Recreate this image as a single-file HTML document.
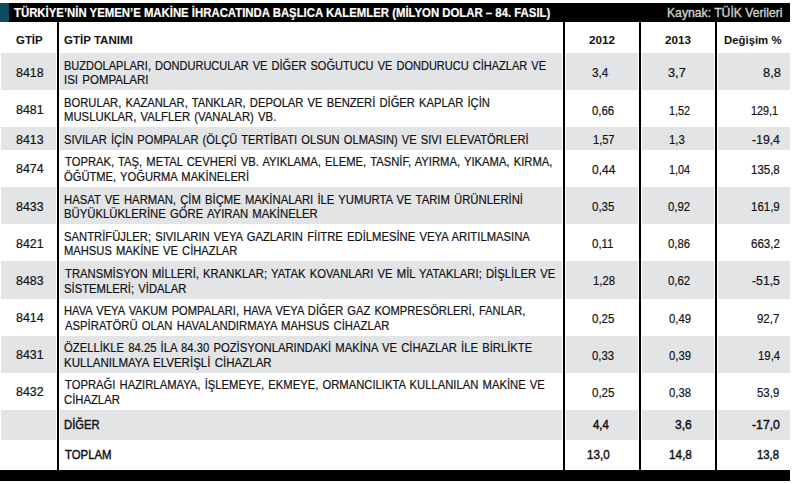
<!DOCTYPE html>
<html><head><meta charset="utf-8"><style>
html,body{margin:0;padding:0;background:#fff;}
body{width:795px;height:484px;position:relative;overflow:hidden;font-family:"Liberation Sans",sans-serif;}
.t{position:absolute;white-space:pre;line-height:1;transform-origin:0 0;-webkit-text-stroke:0.2px currentColor;}
</style></head><body>
<div style="position:absolute;left:1px;top:53px;width:55px;height:37px;background:#e3e4e6"></div>
<div style="position:absolute;left:60px;top:53px;width:502px;height:37px;background:#e3e4e6"></div>
<div style="position:absolute;left:566px;top:53px;width:72px;height:37px;background:#e3e4e6"></div>
<div style="position:absolute;left:642px;top:53px;width:72px;height:37px;background:#e3e4e6"></div>
<div style="position:absolute;left:718px;top:53px;width:72px;height:37px;background:#e3e4e6"></div>
<div style="position:absolute;left:1px;top:127px;width:55px;height:23px;background:#e3e4e6"></div>
<div style="position:absolute;left:60px;top:127px;width:502px;height:23px;background:#e3e4e6"></div>
<div style="position:absolute;left:566px;top:127px;width:72px;height:23px;background:#e3e4e6"></div>
<div style="position:absolute;left:642px;top:127px;width:72px;height:23px;background:#e3e4e6"></div>
<div style="position:absolute;left:718px;top:127px;width:72px;height:23px;background:#e3e4e6"></div>
<div style="position:absolute;left:1px;top:187px;width:55px;height:37px;background:#e3e4e6"></div>
<div style="position:absolute;left:60px;top:187px;width:502px;height:37px;background:#e3e4e6"></div>
<div style="position:absolute;left:566px;top:187px;width:72px;height:37px;background:#e3e4e6"></div>
<div style="position:absolute;left:642px;top:187px;width:72px;height:37px;background:#e3e4e6"></div>
<div style="position:absolute;left:718px;top:187px;width:72px;height:37px;background:#e3e4e6"></div>
<div style="position:absolute;left:1px;top:261px;width:55px;height:38px;background:#e3e4e6"></div>
<div style="position:absolute;left:60px;top:261px;width:502px;height:38px;background:#e3e4e6"></div>
<div style="position:absolute;left:566px;top:261px;width:72px;height:38px;background:#e3e4e6"></div>
<div style="position:absolute;left:642px;top:261px;width:72px;height:38px;background:#e3e4e6"></div>
<div style="position:absolute;left:718px;top:261px;width:72px;height:38px;background:#e3e4e6"></div>
<div style="position:absolute;left:1px;top:336px;width:55px;height:37px;background:#e3e4e6"></div>
<div style="position:absolute;left:60px;top:336px;width:502px;height:37px;background:#e3e4e6"></div>
<div style="position:absolute;left:566px;top:336px;width:72px;height:37px;background:#e3e4e6"></div>
<div style="position:absolute;left:642px;top:336px;width:72px;height:37px;background:#e3e4e6"></div>
<div style="position:absolute;left:718px;top:336px;width:72px;height:37px;background:#e3e4e6"></div>
<div style="position:absolute;left:1px;top:410px;width:55px;height:30px;background:#e3e4e6"></div>
<div style="position:absolute;left:60px;top:410px;width:502px;height:30px;background:#e3e4e6"></div>
<div style="position:absolute;left:566px;top:410px;width:72px;height:30px;background:#e3e4e6"></div>
<div style="position:absolute;left:642px;top:410px;width:72px;height:30px;background:#e3e4e6"></div>
<div style="position:absolute;left:718px;top:410px;width:72px;height:30px;background:#e3e4e6"></div>
<div style="position:absolute;left:0px;top:3px;width:790px;height:19px;background:#000"></div>
<div style="position:absolute;left:0px;top:3px;width:9px;height:19px;background:#0c4b62"></div>
<div style="position:absolute;left:57px;top:22px;width:2px;height:448px;background:#000"></div>
<div style="position:absolute;left:563px;top:22px;width:2px;height:448px;background:#000"></div>
<div style="position:absolute;left:639px;top:22px;width:2px;height:448px;background:#000"></div>
<div style="position:absolute;left:715px;top:22px;width:2px;height:448px;background:#000"></div>
<div style="position:absolute;left:0px;top:470px;width:790px;height:11px;background:#000"></div>
<span class="t" style="left:14.00px;top:7.00px;font-size:12.5px;font-weight:700;color:#ffffff;transform:scaleX(0.9092);">TÜRKİYE’NİN YEMEN’E MAKİNE İHRACATINDA BAŞLICA KALEMLER (MİLYON DOLAR – 84. FASIL)</span>
<span class="t" style="left:667.03px;top:7.00px;font-size:12.5px;font-weight:400;color:#d2d2d2;transform:scaleX(0.9744);-webkit-text-stroke:0.35px currentColor;">Kaynak: TÜİK Verileri</span>
<span class="t" style="left:15.72px;top:33.50px;font-size:11.6px;font-weight:700;color:#111114;transform:scaleX(0.9846);-webkit-text-stroke:0;">GTİP</span>
<span class="t" style="left:64.01px;top:33.50px;font-size:11.6px;font-weight:700;color:#111114;transform:scaleX(0.9941);-webkit-text-stroke:0;">GTİP TANIMI</span>
<span class="t" style="left:589.40px;top:33.50px;font-size:11.6px;font-weight:700;color:#111114;transform:scaleX(1.0120);-webkit-text-stroke:0;">2012</span>
<span class="t" style="left:664.80px;top:33.50px;font-size:11.6px;font-weight:700;color:#111114;transform:scaleX(1.0040);-webkit-text-stroke:0;">2013</span>
<span class="t" style="left:723.82px;top:33.50px;font-size:11.6px;font-weight:700;color:#111114;transform:scaleX(0.9807);-webkit-text-stroke:0;">Değişim %</span>
<span class="t" style="left:64.15px;top:59.00px;font-size:13px;font-weight:400;color:#111114;transform:scaleX(0.8476);word-spacing:1.2px;">BUZDOLAPLARI, DONDURUCULAR VE DİĞER SOĞUTUCU VE DONDURUCU CİHAZLAR VE</span>
<span class="t" style="left:64.12px;top:73.00px;font-size:13px;font-weight:400;color:#111114;transform:scaleX(0.8839);word-spacing:1.2px;">ISI POMPALARI</span>
<span class="t" style="left:64.14px;top:96.00px;font-size:13px;font-weight:400;color:#111114;transform:scaleX(0.8624);word-spacing:1.2px;">BORULAR, KAZANLAR, TANKLAR, DEPOLAR VE BENZERİ DİĞER KAPLAR İÇİN</span>
<span class="t" style="left:64.13px;top:110.00px;font-size:13px;font-weight:400;color:#111114;transform:scaleX(0.8711);word-spacing:1.2px;">MUSLUKLAR, VALFLER (VANALAR) VB.</span>
<span class="t" style="left:64.14px;top:133.00px;font-size:13px;font-weight:400;color:#111114;transform:scaleX(0.8576);word-spacing:1.2px;">SIVILAR İÇİN POMPALAR (ÖLÇÜ TERTİBATI OLSUN OLMASIN) VE SIVI ELEVATÖRLERİ</span>
<span class="t" style="left:65.00px;top:155.00px;font-size:13px;font-weight:400;color:#111114;transform:scaleX(0.8639);word-spacing:1.2px;">TOPRAK, TAŞ, METAL CEVHERİ VB. AYIKLAMA, ELEME, TASNİF, AYIRMA, YIKAMA, KIRMA,</span>
<span class="t" style="left:64.14px;top:170.00px;font-size:13px;font-weight:400;color:#111114;transform:scaleX(0.8596);word-spacing:1.2px;">ÖĞÜTME, YOĞURMA MAKİNELERİ</span>
<span class="t" style="left:64.13px;top:193.00px;font-size:13px;font-weight:400;color:#111114;transform:scaleX(0.8677);word-spacing:1.2px;">HASAT VE HARMAN, ÇİM BİÇME MAKİNALARI İLE YUMURTA VE TARIM ÜRÜNLERİNİ</span>
<span class="t" style="left:64.13px;top:207.00px;font-size:13px;font-weight:400;color:#111114;transform:scaleX(0.8700);word-spacing:1.2px;">BÜYÜKLÜKLERİNE GÖRE AYIRAN MAKİNELER</span>
<span class="t" style="left:64.13px;top:230.00px;font-size:13px;font-weight:400;color:#111114;transform:scaleX(0.8668);word-spacing:1.2px;">SANTRİFÜJLER; SIVILARIN VEYA GAZLARIN FİITRE EDİLMESİNE VEYA ARITILMASINA</span>
<span class="t" style="left:64.14px;top:244.00px;font-size:13px;font-weight:400;color:#111114;transform:scaleX(0.8605);word-spacing:1.2px;">MAHSUS MAKİNE VE CİHAZLAR</span>
<span class="t" style="left:65.00px;top:267.00px;font-size:13px;font-weight:400;color:#111114;transform:scaleX(0.8676);word-spacing:1.2px;">TRANSMİSYON MİLLERİ, KRANKLAR; YATAK KOVANLARI VE MİL YATAKLARI; DİŞLİLER VE</span>
<span class="t" style="left:64.13px;top:282.00px;font-size:13px;font-weight:400;color:#111114;transform:scaleX(0.8664);word-spacing:1.2px;">SİSTEMLERİ; VİDALAR</span>
<span class="t" style="left:64.14px;top:304.00px;font-size:13px;font-weight:400;color:#111114;transform:scaleX(0.8582);word-spacing:1.2px;">HAVA VEYA VAKUM POMPALARI, HAVA VEYA DİĞER GAZ KOMPRESÖRLERİ, FANLAR,</span>
<span class="t" style="left:65.00px;top:319.00px;font-size:13px;font-weight:400;color:#111114;transform:scaleX(0.8686);word-spacing:1.2px;">ASPİRATÖRÜ OLAN HAVALANDIRMAYA MAHSUS CİHAZLAR</span>
<span class="t" style="left:64.13px;top:341.00px;font-size:13px;font-weight:400;color:#111114;transform:scaleX(0.8664);word-spacing:1.2px;">ÖZELLİKLE 84.25 İLA 84.30 POZİSYONLARINDAKİ MAKİNA VE CİHAZLAR İLE BİRLİKTE</span>
<span class="t" style="left:64.11px;top:356.00px;font-size:13px;font-weight:400;color:#111114;transform:scaleX(0.8863);word-spacing:1.2px;">KULLANILMAYA ELVERİŞLİ CİHAZLAR</span>
<span class="t" style="left:65.00px;top:378.00px;font-size:13px;font-weight:400;color:#111114;transform:scaleX(0.8657);word-spacing:1.2px;">TOPRAĞI HAZIRLAMAYA, İŞLEMEYE, EKMEYE, ORMANCILIKTA KULLANILAN MAKİNE VE</span>
<span class="t" style="left:64.13px;top:393.00px;font-size:13px;font-weight:400;color:#111114;transform:scaleX(0.8683);word-spacing:1.2px;">CİHAZLAR</span>
<span class="t" style="left:15.85px;top:66.00px;font-size:13px;font-weight:400;color:#111114;transform:scaleX(0.9519);">8418</span>
<span class="t" style="left:591.85px;top:66.00px;font-size:13px;font-weight:400;color:#111114;transform:scaleX(0.9029);">3,4</span>
<span class="t" style="left:667.82px;top:66.00px;font-size:13px;font-weight:400;color:#111114;transform:scaleX(0.9813);">3,7</span>
<span class="t" style="left:762.51px;top:66.00px;font-size:13px;font-weight:400;color:#111114;transform:scaleX(0.9937);">8,8</span>
<span class="t" style="left:15.85px;top:103.00px;font-size:13px;font-weight:400;color:#111114;transform:scaleX(0.9519);">8481</span>
<span class="t" style="left:592.33px;top:104.00px;font-size:13px;font-weight:400;color:#111114;transform:scaleX(0.8750);">0,66</span>
<span class="t" style="left:669.37px;top:104.00px;font-size:13px;font-weight:400;color:#111114;transform:scaleX(0.8333);">1,52</span>
<span class="t" style="left:751.17px;top:104.00px;font-size:13px;font-weight:400;color:#111114;transform:scaleX(0.8323);">129,1</span>
<span class="t" style="left:15.85px;top:133.00px;font-size:13px;font-weight:400;color:#111114;transform:scaleX(0.9519);">8413</span>
<span class="t" style="left:592.85px;top:133.00px;font-size:13px;font-weight:400;color:#111114;transform:scaleX(0.8500);">1,57</span>
<span class="t" style="left:669.33px;top:133.00px;font-size:13px;font-weight:400;color:#111114;transform:scaleX(0.8750);">1,3</span>
<span class="t" style="left:752.06px;top:133.00px;font-size:13px;font-weight:400;color:#111114;transform:scaleX(0.9429);">-19,4</span>
<span class="t" style="left:15.85px;top:162.00px;font-size:13px;font-weight:400;color:#111114;transform:scaleX(0.9519);">8474</span>
<span class="t" style="left:591.88px;top:163.00px;font-size:13px;font-weight:400;color:#111114;transform:scaleX(0.9208);">0,44</span>
<span class="t" style="left:669.37px;top:163.00px;font-size:13px;font-weight:400;color:#111114;transform:scaleX(0.8333);">1,04</span>
<span class="t" style="left:751.12px;top:163.00px;font-size:13px;font-weight:400;color:#111114;transform:scaleX(0.8839);">135,8</span>
<span class="t" style="left:15.85px;top:200.00px;font-size:13px;font-weight:400;color:#111114;transform:scaleX(0.9519);">8433</span>
<span class="t" style="left:592.31px;top:200.00px;font-size:13px;font-weight:400;color:#111114;transform:scaleX(0.8875);">0,35</span>
<span class="t" style="left:668.33px;top:200.00px;font-size:13px;font-weight:400;color:#111114;transform:scaleX(0.8750);">0,92</span>
<span class="t" style="left:751.12px;top:200.00px;font-size:13px;font-weight:400;color:#111114;transform:scaleX(0.8839);">161,9</span>
<span class="t" style="left:15.85px;top:237.00px;font-size:13px;font-weight:400;color:#111114;transform:scaleX(0.9519);">8421</span>
<span class="t" style="left:592.32px;top:237.00px;font-size:13px;font-weight:400;color:#111114;transform:scaleX(0.8826);">0,11</span>
<span class="t" style="left:668.33px;top:237.00px;font-size:13px;font-weight:400;color:#111114;transform:scaleX(0.8750);">0,86</span>
<span class="t" style="left:750.91px;top:237.00px;font-size:13px;font-weight:400;color:#111114;transform:scaleX(0.8903);">663,2</span>
<span class="t" style="left:15.85px;top:274.00px;font-size:13px;font-weight:400;color:#111114;transform:scaleX(0.9519);">8483</span>
<span class="t" style="left:592.83px;top:274.00px;font-size:13px;font-weight:400;color:#111114;transform:scaleX(0.8667);">1,28</span>
<span class="t" style="left:668.33px;top:274.00px;font-size:13px;font-weight:400;color:#111114;transform:scaleX(0.8750);">0,62</span>
<span class="t" style="left:752.06px;top:274.00px;font-size:13px;font-weight:400;color:#111114;transform:scaleX(0.9429);">-51,5</span>
<span class="t" style="left:15.85px;top:311.00px;font-size:13px;font-weight:400;color:#111114;transform:scaleX(0.9519);">8414</span>
<span class="t" style="left:592.31px;top:312.00px;font-size:13px;font-weight:400;color:#111114;transform:scaleX(0.8875);">0,25</span>
<span class="t" style="left:669.33px;top:312.00px;font-size:13px;font-weight:400;color:#111114;transform:scaleX(0.8667);">0,49</span>
<span class="t" style="left:757.42px;top:312.00px;font-size:13px;font-weight:400;color:#111114;transform:scaleX(0.8792);">92,7</span>
<span class="t" style="left:15.85px;top:348.00px;font-size:13px;font-weight:400;color:#111114;transform:scaleX(0.9519);">8431</span>
<span class="t" style="left:592.33px;top:349.00px;font-size:13px;font-weight:400;color:#111114;transform:scaleX(0.8708);">0,33</span>
<span class="t" style="left:669.33px;top:349.00px;font-size:13px;font-weight:400;color:#111114;transform:scaleX(0.8667);">0,39</span>
<span class="t" style="left:757.73px;top:349.00px;font-size:13px;font-weight:400;color:#111114;transform:scaleX(0.8750);">19,4</span>
<span class="t" style="left:15.85px;top:385.00px;font-size:13px;font-weight:400;color:#111114;transform:scaleX(0.9519);">8432</span>
<span class="t" style="left:592.31px;top:386.00px;font-size:13px;font-weight:400;color:#111114;transform:scaleX(0.8875);">0,25</span>
<span class="t" style="left:669.33px;top:386.00px;font-size:13px;font-weight:400;color:#111114;transform:scaleX(0.8667);">0,38</span>
<span class="t" style="left:757.42px;top:386.00px;font-size:13px;font-weight:400;color:#111114;transform:scaleX(0.8792);">53,9</span>
<span class="t" style="left:64.13px;top:418.00px;font-size:13px;font-weight:400;color:#111114;transform:scaleX(0.8667);-webkit-text-stroke:0.45px currentColor;">DİĞER</span>
<span class="t" style="left:65.00px;top:448.00px;font-size:13px;font-weight:400;color:#111114;transform:scaleX(0.8731);-webkit-text-stroke:0.45px currentColor;">TOPLAM</span>
<span class="t" style="left:592.80px;top:418.00px;font-size:13px;font-weight:400;color:#111114;transform:scaleX(0.8778);-webkit-text-stroke:0.45px currentColor;">4,4</span>
<span class="t" style="left:675.07px;top:418.00px;font-size:13px;font-weight:400;color:#111114;transform:scaleX(0.9312);-webkit-text-stroke:0.45px currentColor;">3,6</span>
<span class="t" style="left:586.50px;top:448.00px;font-size:13px;font-weight:400;color:#111114;transform:scaleX(0.8958);-webkit-text-stroke:0.45px currentColor;">13,0</span>
<span class="t" style="left:669.10px;top:448.00px;font-size:13px;font-weight:400;color:#111114;transform:scaleX(0.9042);-webkit-text-stroke:0.45px currentColor;">14,8</span>
<span class="t" style="left:751.66px;top:418.00px;font-size:13px;font-weight:400;color:#111114;transform:scaleX(0.9429);-webkit-text-stroke:0.45px currentColor;">-17,0</span>
<span class="t" style="left:757.23px;top:448.00px;font-size:13px;font-weight:400;color:#111114;transform:scaleX(0.8708);-webkit-text-stroke:0.45px currentColor;">13,8</span>
</body></html>
